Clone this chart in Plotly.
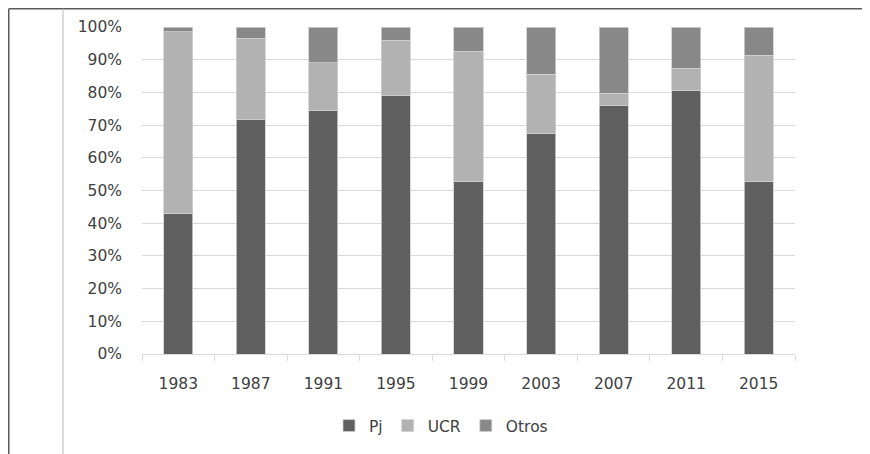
import plotly.graph_objects as go

years = ["1983", "1987", "1991", "1995", "1999", "2003", "2007", "2011", "2015"]
pj = [43.1, 71.6, 74.6, 79.1, 52.8, 67.5, 76.0, 80.5, 52.8]
ucr = [55.4, 25.0, 14.4, 16.8, 39.8, 18.1, 3.8, 6.9, 38.6]
otros = [1.5, 3.4, 11.0, 4.1, 7.4, 14.4, 20.2, 12.6, 8.6]
series_names = ["Pj", "UCR", "Otros"]
series_colors = ["#5f5f5f", "#b2b2b2", "#888888"]
y_ticks = [0, 10, 20, 30, 40, 50, 60, 70, 80, 90, 100]
y_tick_labels = [f"{v}%" for v in y_ticks]

FONT = "DejaVu Sans"
TXT = "#404040"
FS = 15.5

fig = go.Figure()
for name, vals, col in zip(series_names, [pj, ucr, otros], series_colors):
    fig.add_trace(go.Bar(
        x=years, y=vals, name=name,
        marker=dict(color=col, line=dict(color="#d0d0d0", width=0.8)),
    ))

# the page adds an 8px body margin; figure coordinates are page coordinates minus 8
OFF = 8
W, H = 870, 454
L, T = 142 - OFF, 27 - OFF
R = W - (795 - OFF)
B = H - (354 - OFF)
pw, ph = W - L - R, H - T - B

def px2x(px):
    return (px - OFF - L) / pw

def py2y(py):
    return (H - B - (py - OFF)) / ph

fig.update_layout(
    width=W, height=H,
    barmode="stack", bargap=0.6,
    plot_bgcolor="white", paper_bgcolor="white",
    margin=dict(l=L, r=R, t=T, b=B, autoexpand=False),
    font=dict(family=FONT, size=FS, color=TXT),
    showlegend=True,
    legend=dict(orientation="h", x=px2x(441), xanchor="center", y=py2y(426), yanchor="middle",
                font=dict(family=FONT, size=FS, color=TXT), itemwidth=30,
                traceorder="normal"),
    xaxis=dict(
        type="category", showgrid=False, showline=True, linecolor="#d9d9d9", linewidth=1.3,
        ticks="outside", tickson="boundaries", ticklen=6, tickcolor="#d9d9d9", tickwidth=1.3,
        ticklabelstandoff=15,
        tickfont=dict(family=FONT, size=FS, color=TXT),
    ),
    yaxis=dict(
        range=[0, 100], tickvals=y_ticks, ticktext=y_tick_labels,
        showgrid=True, gridcolor="#d9d9d9", gridwidth=1.3, zeroline=False, showline=False,
        ticks="", ticklabelstandoff=19,
        tickfont=dict(family=FONT, size=FS, color=TXT),
    ),
    shapes=[
        dict(type="line", xref="paper", yref="paper", x0=px2x(8.75), x1=px2x(880), y0=py2y(8.75), y1=py2y(8.75),
             line=dict(color="#5a5a5a", width=1.5)),
        dict(type="line", xref="paper", yref="paper", x0=px2x(8.75), x1=px2x(8.75), y0=py2y(8.75), y1=py2y(470),
             line=dict(color="#5a5a5a", width=1.5)),
        dict(type="line", xref="paper", yref="paper", x0=px2x(63), x1=px2x(63), y0=py2y(8.75), y1=py2y(470),
             line=dict(color="#c4c4c4", width=1.2)),
    ],
)

fig.write_html("out.html")
